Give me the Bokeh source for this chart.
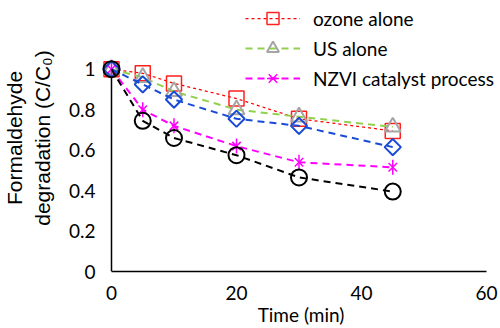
import math
from bokeh.plotting import figure
from bokeh.models import FixedTicker, Legend, LegendItem, Range1d
from bokeh.embed import file_html
from bokeh.resources import INLINE

# ---- data ----
time_min = [0, 5, 10, 20, 30, 45]
ozone_alone = [1, 0.98, 0.93, 0.855, 0.755, 0.695]
us_alone = [1, 0.96, 0.89, 0.80, 0.765, 0.715]
nzvi_process = [1, 0.80, 0.72, 0.62, 0.54, 0.515]
blue_series = [1, 0.925, 0.85, 0.755, 0.72, 0.615]
black_series = [1, 0.745, 0.66, 0.575, 0.465, 0.395]

x_ticks = [0, 20, 40, 60]
y_ticks = [0, 0.2, 0.4, 0.6, 0.8, 1]
y_tick_labels = ["0", "0.2", "0.4", "0.6", "0.8", "1"]
legend_labels = ["ozone alone", "US alone", "NZVI catalyst process"]
x_title = "Time (min)"
y_title = "Formaldehyde\ndegradation (C/C\u2080)"

p = figure(width=500, height=328, output_backend="svg", toolbar_location=None,
           x_range=Range1d(-1.6, 62.24), y_range=Range1d(0, 1.32),
           min_border_left=101, min_border_right=0, min_border_top=4,
           min_border_bottom=56)
p.outline_line_color = None
p.xgrid.visible = False
p.ygrid.visible = False
p.background_fill_color = "white"
p.border_fill_color = "white"

tick_font = "Lato"
for ax in (p.xaxis[0], p.yaxis[0]):
    ax.axis_line_color = "black"
    ax.axis_line_width = 1.5
    ax.major_tick_line_color = None
    ax.minor_tick_line_color = None
    ax.major_label_text_font = tick_font
    ax.major_label_text_font_size = "19px"
    ax.major_label_text_color = "black"
    ax.axis_label_text_font_style = "normal"
    ax.axis_label_text_color = "black"

p.xaxis.ticker = FixedTicker(ticks=x_ticks)
p.xaxis.bounds = (x_ticks[0], x_ticks[-1])
p.xaxis.major_label_standoff = 8
p.xaxis.axis_label = x_title
p.xaxis.axis_label_text_font = "Lato"
p.xaxis.axis_label_text_font_size = "19px"
p.xaxis.axis_label_standoff = 0

p.yaxis.ticker = FixedTicker(ticks=y_ticks)
p.yaxis.major_label_overrides = {t: s for t, s in zip(y_ticks, y_tick_labels)}
p.yaxis.axis_line_color = None
p.yaxis.major_label_standoff = 0
p.yaxis.axis_label = y_title
p.yaxis.axis_label_text_font = "Liberation Sans"
p.yaxis.axis_label_text_font_size = "21px"
p.yaxis.axis_label_standoff = 12

# vertical axis line at time 0, from the lowest to the highest y tick
p.segment(x0=[x_ticks[0]], y0=[y_ticks[0]], x1=[x_ticks[0]], y1=[y_ticks[-1]],
          line_color="black", line_width=1.5)

dash = "7 5"
# ozone alone
r_l = p.line(time_min, ozone_alone, line_color="#FF0000", line_width=1.25, line_dash="3 3")
r_m = p.scatter(time_min, ozone_alone, marker="square", size=15, line_color="#FF2020",
                fill_color=None, line_width=1.5)
# US alone
g_l = p.line(time_min, us_alone, line_color="#92D050", line_width=2, line_dash=dash)
g_m = p.scatter(time_min, us_alone, marker="triangle", size=16, line_color="#A5A5A5",
                fill_color=None, line_width=2)
# NZVI catalyst process
m_l = p.line(time_min, nzvi_process, line_color="#FF00FF", line_width=2, line_dash=dash)
m_x = p.scatter(time_min, nzvi_process, marker="x", size=12, line_color="#FF00FF", line_width=1.5)
m_v = p.scatter(time_min, nzvi_process, marker="dash", size=15, angle=math.pi / 2,
                line_color="#FF00FF", line_width=1.5)
# blue series
b_l = p.line(time_min, blue_series, line_color="#1A4BD6", line_width=2, line_dash=dash)
b_m = p.scatter(time_min, blue_series, marker="square", size=11.5, angle=math.pi / 4,
                line_color="#1A4BD6", fill_color=None, line_width=2)
# black series
k_l = p.line(time_min, black_series, line_color="black", line_width=2, line_dash=dash)
k_m = p.scatter(time_min, black_series, marker="circle", size=16, line_color="black",
                fill_color=None, line_width=2)

legend = Legend(items=[
    LegendItem(label=legend_labels[0], renderers=[r_l, r_m]),
    LegendItem(label=legend_labels[1], renderers=[g_l, g_m]),
    LegendItem(label=legend_labels[2], renderers=[m_l, m_x, m_v]),
], location=(144, 178), glyph_width=55, glyph_height=30, label_height=20,
   spacing=-3, padding=0, margin=0, label_standoff=13,
   border_line_color=None, background_fill_alpha=0,
   label_text_font="Lato", label_text_font_size="19px", label_text_color="black")
p.add_layout(legend)

open("out.html", "w").write(file_html(p, INLINE))
